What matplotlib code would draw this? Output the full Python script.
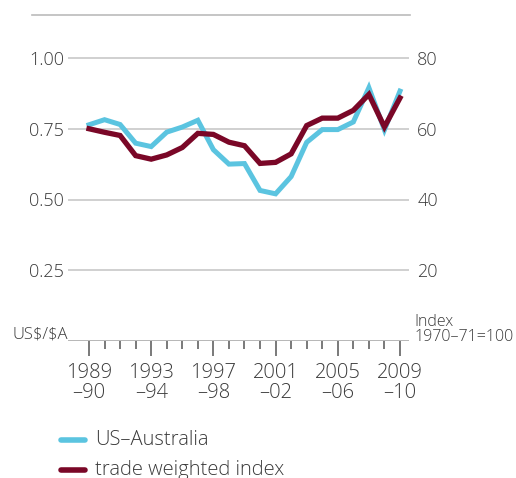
#!/usr/bin/env python3
"""Australian dollar: US exchange rate and trade weighted index, 1989-90 to 2009-10."""

import matplotlib.pyplot as plt
from matplotlib.lines import Line2D

plt.rcParams["font.family"] = ["Open Sans", "DejaVu Sans"]
plt.rcParams["font.weight"] = "light"

YEARS = list(range(1989, 2010))
US_AUS = [0.764, 0.782, 0.765, 0.699, 0.687, 0.738, 0.756, 0.780, 0.676, 0.625, 0.627,
          0.532, 0.520, 0.581, 0.702, 0.747, 0.747, 0.774, 0.895, 0.746, 0.883]
TWI = [60.0, 59.0, 58.1, 52.4, 51.4, 52.6, 54.7, 58.7, 58.4, 56.2, 55.2,
       50.2, 50.5, 52.9, 60.9, 63.0, 63.0, 65.2, 69.7, 60.5, 68.7]
LEFT_TICKS = [0.25, 0.50, 0.75, 1.00]
RIGHT_TICKS = [20, 40, 60, 80]

BLUE = "#5BC4E0"
RED = "#7A0727"
GRID = "#c8c8c8"
TEXT = "#3a3a3a"
FS = 13


def main():
    fig = plt.figure(figsize=(5.16, 4.78), dpi=100)
    ax = fig.add_axes([68 / 516, 1 - 341 / 478, (409 - 68) / 516, 311.3 / 478])
    ax2 = ax.twinx()

    x = list(range(len(YEARS)))
    ax.set_xlim(-1.35, 20.58)
    ax.set_ylim(0, 1.10)
    ax2.set_ylim(0, 88)

    for v in LEFT_TICKS:
        ax.axhline(v, color=GRID, lw=1.2, zorder=1)
    ax.axhline(0, color="#aaaaaa", lw=1.2, zorder=1)

    ax.plot(x, US_AUS, color=BLUE, lw=3.6, solid_joinstyle="miter", zorder=3)
    ax2.plot(x, TWI, color=RED, lw=3.8, solid_joinstyle="miter", zorder=4)

    for a in (ax, ax2):
        for s in a.spines.values():
            s.set_visible(False)
        a.patch.set_visible(False)

    ax.set_yticks(LEFT_TICKS, [f"{v:.2f}" for v in LEFT_TICKS])
    ax2.set_yticks(RIGHT_TICKS, [str(v) for v in RIGHT_TICKS])
    ax.tick_params(axis="y", length=0, pad=3, labelsize=FS, labelcolor=TEXT)
    ax2.tick_params(axis="y", length=0, pad=6, labelsize=FS, labelcolor=TEXT)

    major = [i for i, y in enumerate(YEARS) if (y - 1989) % 4 == 0]
    minor = [i for i in x if i not in major]
    ax.set_xticks(major, [f"{YEARS[i]}\n–{(YEARS[i] + 1) % 100:02d}" for i in major])
    ax.set_xticks(minor, minor=True)
    ax.tick_params(axis="x", which="major", length=11, width=1.1, color="#555555",
                   labelsize=FS + 1.5, labelcolor=TEXT, pad=5)
    ax.tick_params(axis="x", which="minor", length=6, width=1.1, color="#555555")
    for lab in ax.get_xticklabels():
        lab.set_linespacing(1.0)

    fig.add_artist(Line2D([32 / 516, 410 / 516], [1 - 15 / 478] * 2, color="#bbbbbb", lw=1.2))

    fig.text(12 / 516, 1 - 342 / 478, r"US\$/\$A", fontsize=FS - 1, color=TEXT, va="bottom")
    fig.text(414 / 516, 1 - 345 / 478, "Index\n1970–71=100", fontsize=FS - 1.5, color=TEXT,
             va="bottom", linespacing=0.95)

    for y, color, label in [(440, BLUE, "US–Australia"), (470, RED, "trade weighted index")]:
        fig.add_artist(Line2D([61 / 516, 85 / 516], [1 - y / 478] * 2, color=color, lw=4,
                              solid_capstyle="round"))
        fig.text(95 / 516, 1 - y / 478, label, fontsize=FS + 1.5, color=TEXT, va="center")

    fig.savefig("out.png", dpi=100)
    plt.close(fig)


if __name__ == "__main__":
    main()
